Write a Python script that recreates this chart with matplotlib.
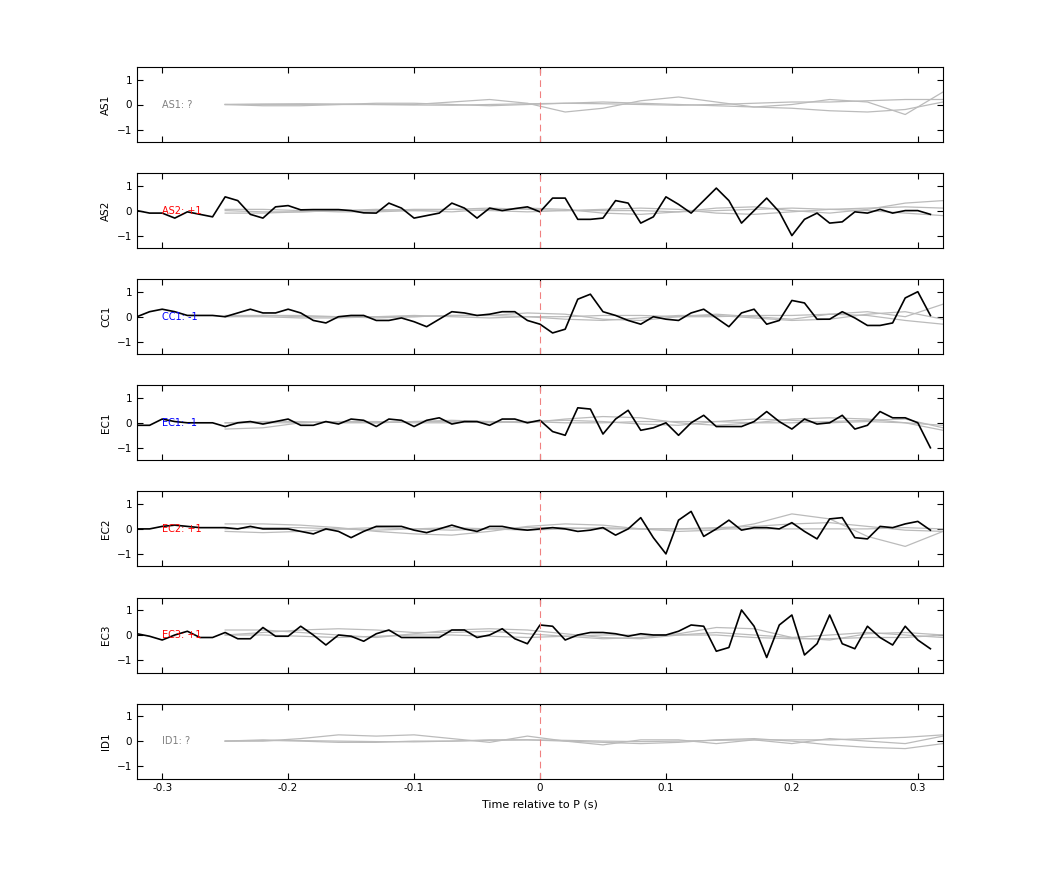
import numpy as np
import matplotlib.pyplot as plt

stations = ['AS1', 'AS2', 'CC1', 'EC1', 'EC2', 'EC3', 'ID1']
polarity = ['?', '+1', '-1', '-1', '+1', '+1', '?']
pol_colors = {'?': 'gray', '+1': 'red', '-1': 'blue'}

# black trace, sampled every 0.01 s from -0.32 to 0.31
t_obs = np.round(np.arange(-0.32, 0.315, 0.01), 2)
obs = {
    'AS2': [0.0, -0.1, -0.1, -0.3, -0.05, -0.15, -0.25, 0.55, 0.4, -0.15, -0.3, 0.15, 0.2, 0.03,
            0.04, 0.04, 0.04, 0.0, -0.09, -0.1, 0.3, 0.1, -0.3, -0.2, -0.1, 0.3, 0.1, -0.3, 0.1,
            0.0, 0.08, 0.15, -0.05, 0.5, 0.5, -0.35, -0.35, -0.3, 0.4, 0.3, -0.5, -0.25, 0.55,
            0.25, -0.1, 0.4, 0.9, 0.4, -0.5, 0.0, 0.5, -0.05, -1.0, -0.35, -0.1, -0.5, -0.45,
            -0.05, -0.1, 0.05, -0.1, 0.0, 0.0, -0.15],
    'CC1': [0.0, 0.2, 0.3, 0.2, 0.05, 0.05, 0.05, 0.0, 0.15, 0.3, 0.15, 0.15, 0.3, 0.15, -0.15,
            -0.25, 0.0, 0.05, 0.05, -0.15, -0.15, -0.05, -0.2, -0.4, -0.1, 0.2, 0.15, 0.05, 0.1,
            0.2, 0.2, -0.15, -0.3, -0.65, -0.5, 0.7, 0.9, 0.2, 0.05, -0.15, -0.3, 0.0, -0.1,
            -0.15, 0.15, 0.3, -0.05, -0.4, 0.15, 0.3, -0.3, -0.15, 0.65, 0.55, -0.1, -0.1, 0.2,
            -0.05, -0.35, -0.35, -0.25, 0.75, 1.0, 0.05],
    'EC1': [-0.1, -0.1, 0.15, 0.05, 0.0, 0.0, 0.0, -0.15, 0.0, 0.05, -0.05, 0.05, 0.15, -0.1,
            -0.1, 0.05, -0.05, 0.15, 0.1, -0.15, 0.15, 0.1, -0.15, 0.1, 0.2, -0.05, 0.05, 0.05,
            -0.1, 0.15, 0.15, 0.0, 0.1, -0.35, -0.5, 0.6, 0.55, -0.45, 0.15, 0.5, -0.3, -0.2,
            0.0, -0.5, 0.0, 0.3, -0.15, -0.15, -0.15, 0.05, 0.45, 0.05, -0.25, 0.15, -0.05, 0.0,
            0.3, -0.25, -0.1, 0.45, 0.2, 0.2, 0.0, -1.0],
    'EC2': [0.0, 0.0, 0.1, 0.15, 0.1, 0.05, 0.05, 0.05, 0.0, 0.1, 0.0, 0.0, 0.0, -0.1, -0.2,
            0.0, -0.1, -0.35, -0.1, 0.1, 0.1, 0.1, -0.05, -0.15, 0.0, 0.15, 0.0, -0.1, 0.1, 0.1,
            0.0, -0.05, 0.0, 0.05, 0.0, -0.1, -0.05, 0.05, -0.25, 0.0, 0.45, -0.35, -1.0, 0.35,
            0.7, -0.3, 0.0, 0.35, -0.05, 0.05, 0.05, 0.0, 0.25, -0.1, -0.4, 0.4, 0.45, -0.35,
            -0.4, 0.1, 0.05, 0.2, 0.3, -0.05],
    'EC3': [0.05, -0.05, -0.2, 0.0, 0.15, -0.1, -0.1, 0.1, -0.15, -0.15, 0.3, -0.05, -0.05,
            0.35, 0.0, -0.4, 0.0, -0.05, -0.25, 0.05, 0.2, -0.1, -0.1, -0.1, -0.1, 0.2, 0.2,
            -0.1, 0.0, 0.25, -0.15, -0.35, 0.4, 0.35, -0.2, 0.0, 0.1, 0.1, 0.05, -0.05, 0.05,
            0.0, 0.0, 0.15, 0.4, 0.35, -0.65, -0.5, 1.0, 0.35, -0.9, 0.4, 0.8, -0.8, -0.35, 0.8,
            -0.35, -0.55, 0.35, -0.1, -0.4, 0.35, -0.2, -0.55],
}

# gray synthetic traces
t_syn = np.round(np.arange(-0.25, 0.325, 0.03), 2)
syn = {
    'AS1': [[0, 0, 0, 0, 0, 0, 0.1, 0.2, 0.05, -0.3, -0.15, 0.15, 0.3, 0.1, -0.1, 0, 0.2, 0.1, -0.4, 0.5],
            [0, -0.05, -0.05, 0, 0.05, 0.05, 0, -0.05, 0, 0.05, 0.1, 0.05, 0, -0.05, -0.1, -0.15, -0.25, -0.3, -0.2, 0.1],
            [0, 0.02, 0.03, 0.02, 0, -0.02, -0.03, 0, 0.03, 0.05, 0.03, 0, -0.03, 0, 0.05, 0.1, 0.1, 0.15, 0.2, 0.2]],
    'AS2': [[0, -0.05, -0.05, 0, 0.05, 0, -0.05, 0.05, 0.1, 0.05, -0.1, -0.15, -0.05, 0.1, 0.15, 0, -0.1, 0.05, 0.3, 0.4],
            [-0.1, -0.1, -0.05, 0, 0, 0.05, 0.05, 0, -0.05, 0, 0.05, 0.1, 0.05, -0.1, -0.15, -0.05, 0.05, 0, -0.1, -0.2],
            [0.05, 0.05, 0, -0.05, -0.05, 0, 0.05, 0.1, 0.05, 0, 0, 0, -0.05, 0, 0.05, 0.1, 0.05, 0.1, 0.15, 0.1]],
    'CC1': [[0, 0.05, 0.05, 0, -0.05, 0, 0.05, 0.05, 0.15, 0.1, -0.1, -0.15, 0, 0.1, 0, -0.1, 0.1, 0.2, 0, 0.5],
            [0, 0, -0.05, -0.05, 0, 0.05, 0, -0.05, 0, -0.1, -0.15, -0.05, 0.05, 0.05, -0.05, -0.15, -0.1, 0.1, 0.2, -0.1],
            [0.05, 0.05, 0, 0, 0, 0, 0.05, 0.05, 0, 0, 0.05, 0.05, 0, 0, 0.05, 0.05, 0.1, 0.05, -0.15, -0.3]],
    'EC1': [[-0.25, -0.2, 0, 0.05, 0, 0.05, 0.1, 0.05, 0, 0.15, 0.25, 0.2, 0, -0.1, 0, 0.15, 0.2, 0.15, 0, -0.3],
            [0, 0.05, 0.05, 0, 0, 0.05, 0.05, 0, 0.05, 0.1, 0.05, -0.05, -0.1, 0.05, 0.15, 0.1, 0, 0.05, 0, -0.1],
            [0, 0, 0, 0.05, 0.05, 0, 0, 0.05, 0.05, 0, 0, 0.05, 0.05, 0.05, 0, 0, 0.05, 0.1, 0.15, -0.2]],
    'EC2': [[0.2, 0.2, 0.15, 0.05, -0.1, -0.2, -0.25, -0.1, 0.1, 0.2, 0.15, 0, -0.1, -0.05, 0.2, 0.6, 0.4, -0.3, -0.7, -0.1],
            [-0.1, -0.15, -0.1, 0, 0.05, 0, -0.05, 0, 0.05, 0.05, 0, 0, 0, 0.05, 0.1, 0.2, 0.25, 0.1, -0.05, -0.1],
            [0, 0.05, 0.05, 0, -0.05, 0, 0.05, 0, -0.05, 0, 0.05, 0, 0, 0, 0, 0, 0, 0, 0.05, 0]],
    'EC3': [[0.2, 0.2, 0.1, 0, -0.1, 0.05, 0.2, 0.25, 0.2, 0.05, -0.1, -0.15, 0, 0.1, 0, -0.1, 0, 0.1, 0, -0.1],
            [0, 0.1, 0.2, 0.25, 0.2, 0.1, 0.1, 0.15, 0.05, -0.05, -0.15, -0.1, 0.05, 0.3, 0.25, -0.1, -0.2, 0.05, 0.1, 0],
            [0, 0, -0.05, -0.1, -0.05, 0, 0, -0.05, -0.1, -0.05, 0, 0, 0, 0, -0.1, -0.15, -0.15, -0.1, -0.1, 0]],
    'ID1': [[0, 0, 0.1, 0.25, 0.2, 0.25, 0.1, -0.05, 0.2, 0, -0.15, 0.05, 0.05, -0.1, 0.05, -0.1, 0.1, 0, -0.1, 0.2],
            [0, 0.05, 0, -0.05, -0.05, 0, 0, 0.05, 0.05, 0, -0.05, -0.1, -0.05, 0.05, 0.1, 0, -0.15, -0.25, -0.3, -0.1],
            [0, 0.02, 0.02, 0, -0.02, -0.03, 0, 0.03, 0.05, 0.03, 0, -0.02, 0, 0.03, 0.05, 0.05, 0.05, 0.1, 0.15, 0.25]],
}

fig = plt.figure(figsize=(10.42, 8.75), dpi=100)
plt.rcParams['font.size'] = 7

left, width, height = 137 / 1042, 806 / 1042, 75 / 875
for i, sta in enumerate(stations):
    top = 67 + 106.1 * i
    ax = fig.add_axes([left, 1 - (top + 75) / 875, width, height])
    for tr in syn.get(sta, []):
        ax.plot(t_syn, tr, color='#bbbbbb', linewidth=0.9)
    if sta in obs:
        ax.plot(t_obs, obs[sta], color='black', linewidth=1.2)
    ax.axvline(0, color='#f08080', linestyle=(0, (6, 4)), linewidth=0.8)
    pol = polarity[i]
    ax.text(-0.3, 0, f'{sta}: {pol}', color=pol_colors[pol], fontsize=7, va='center')
    ax.set_xlim(-0.32, 0.32)
    ax.set_ylim(-1.5, 1.5)
    ax.set_yticks([-1, 0, 1])
    ax.set_xticks([-0.3, -0.2, -0.1, 0, 0.1, 0.2, 0.3])
    ax.tick_params(direction='in', top=True, right=True, length=4, labelsize=7.5)
    ax.set_ylabel(sta, fontsize=7.5)
    if i < len(stations) - 1:
        ax.set_xticklabels([])
    else:
        ax.set_xticklabels(['-0.3', '-0.2', '-0.1', '0', '0.1', '0.2', '0.3'])
        ax.set_xlabel('Time relative to P (s)', fontsize=8)

plt.savefig('out.png', dpi=100)
